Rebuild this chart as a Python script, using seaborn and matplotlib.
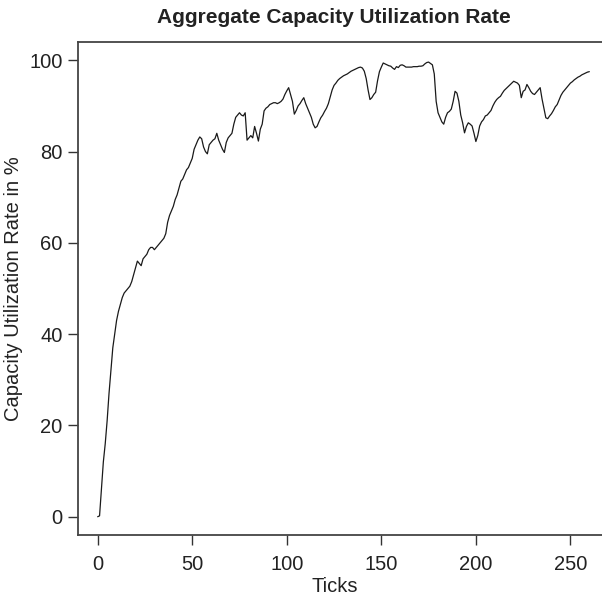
import numpy as np
import pandas as pd
import matplotlib
matplotlib.use("Agg")
import matplotlib.pyplot as plt
import seaborn as sns

title = "Aggregate Capacity Utilization Rate"
x_label = "Ticks"
y_label = "Capacity Utilization Rate in %"
x_ticks = [0, 50, 100, 150, 200, 250]
y_ticks = [0, 20, 40, 60, 80, 100]

utilization = [
    0, 0.2, 6, 12, 16, 21, 27, 32, 37, 40,
    43, 45, 46.5, 48, 49, 49.5, 50, 50.5, 51.5, 53,
    54.5, 56, 55.5, 55, 56.5, 57, 57.5, 58.5, 59, 59,
    58.5, 59, 59.5, 60, 60.5, 61, 62, 64.5, 66, 67,
    68, 69.5, 70.5, 72, 73.5, 74, 75, 76, 76.5, 77.5,
    78.5, 80.5, 81.5, 82.5, 83.2, 82.8, 81, 80, 79.5, 81.5,
    82, 82.5, 82.8, 84, 82.5, 81.5, 80.5, 79.8, 82, 83,
    83.5, 84, 86, 87.5, 88, 88.5, 88, 87.8, 88.5, 82.5,
    83, 83.5, 83, 85.5, 84, 82.3, 84.9, 86, 88.9, 89.5,
    89.8, 90.3, 90.5, 90.7, 90.7, 90.5, 90.7, 91, 91.5, 92.5,
    93.3, 94, 92.5, 91, 88.2, 89, 90, 90.5, 91.2, 91.8,
    90.5, 89.5, 88.5, 87.5, 86, 85.2, 85.5, 86.5, 87.4, 88,
    88.8, 89.5, 90.5, 92, 93.5, 94.5, 95, 95.6, 96, 96.3,
    96.6, 96.8, 97, 97.3, 97.6, 97.8, 98, 98.2, 98.4, 98.5,
    98.3, 97.6, 96, 93.5, 91.4, 91.8, 92.5, 93, 95.5, 97.5,
    98.5, 99.4, 99.2, 99, 98.8, 98.7, 98.3, 98, 98.6, 98.4,
    98.9, 99, 98.8, 98.5, 98.5, 98.5, 98.5, 98.6, 98.6, 98.6,
    98.7, 98.7, 98.8, 99.2, 99.5, 99.6, 99.3, 99, 97, 91,
    88.5, 87.5, 86.5, 86, 87.5, 88.5, 88.8, 89.3, 91, 93.2,
    92.8, 91, 88, 86.3, 84.1, 85.5, 86.3, 86, 85.6, 84,
    82.2, 83.5, 85.6, 86.5, 87, 87.8, 88, 88.5, 89, 90,
    90.8, 91.4, 91.8, 92.1, 92.8, 93.4, 93.8, 94.2, 94.6, 95,
    95.4, 95.2, 95, 94.5, 91.8, 93.2, 93.5, 94.7, 94, 93.2,
    92.7, 92.5, 93, 93.5, 94, 91.5, 89.5, 87.4, 87.2, 87.8,
    88.3, 89, 89.8, 90.3, 91.3, 92.3, 93, 93.5, 94, 94.5,
    95, 95.3, 95.7, 96, 96.3, 96.5, 96.8, 97, 97.2, 97.4,
    97.5,
]
ticks = list(range(len(utilization)))

df = pd.DataFrame({"tick": ticks, "rate": utilization})

sns.set_style("ticks")
plt.rcParams["font.family"] = ["Liberation Sans", "DejaVu Sans"]

fig = plt.figure(figsize=(6.02, 5.99), dpi=100)
ax = fig.add_axes([78 / 602, 64 / 599, 531 / 602, 493 / 599])

sns.lineplot(data=df, x="tick", y="rate", ax=ax, color="#1a1a1a", linewidth=0.9)

ax.set_xlim(-10.4, 270.4)
ax.set_ylim(-4, 104)
ax.set_xticks(x_ticks)
ax.set_yticks(y_ticks)
ax.tick_params(axis="both", direction="out", length=7, width=1.0, color="#333333",
               labelsize=14.5, labelcolor="#222222")
ax.tick_params(axis="x", pad=7.5)
ax.tick_params(axis="y", pad=4)
for s in ax.spines.values():
    s.set_color("#444444")
    s.set_linewidth(1.3)
ax.spines["right"].set_visible(False)

ax.set_xlabel(x_label, fontsize=14.5, color="#222222")
ax.xaxis.set_label_coords((335 - 78) / 531, -0.085)
ax.set_ylabel(y_label, fontsize=14.5, color="#222222")
ax.yaxis.set_label_coords(-0.104, 0.5)
ax.set_title(title, fontsize=15, fontweight="bold", color="#222222",
             x=(334 - 78) / 531, pad=14)

fig.savefig("out.png", dpi=100)
